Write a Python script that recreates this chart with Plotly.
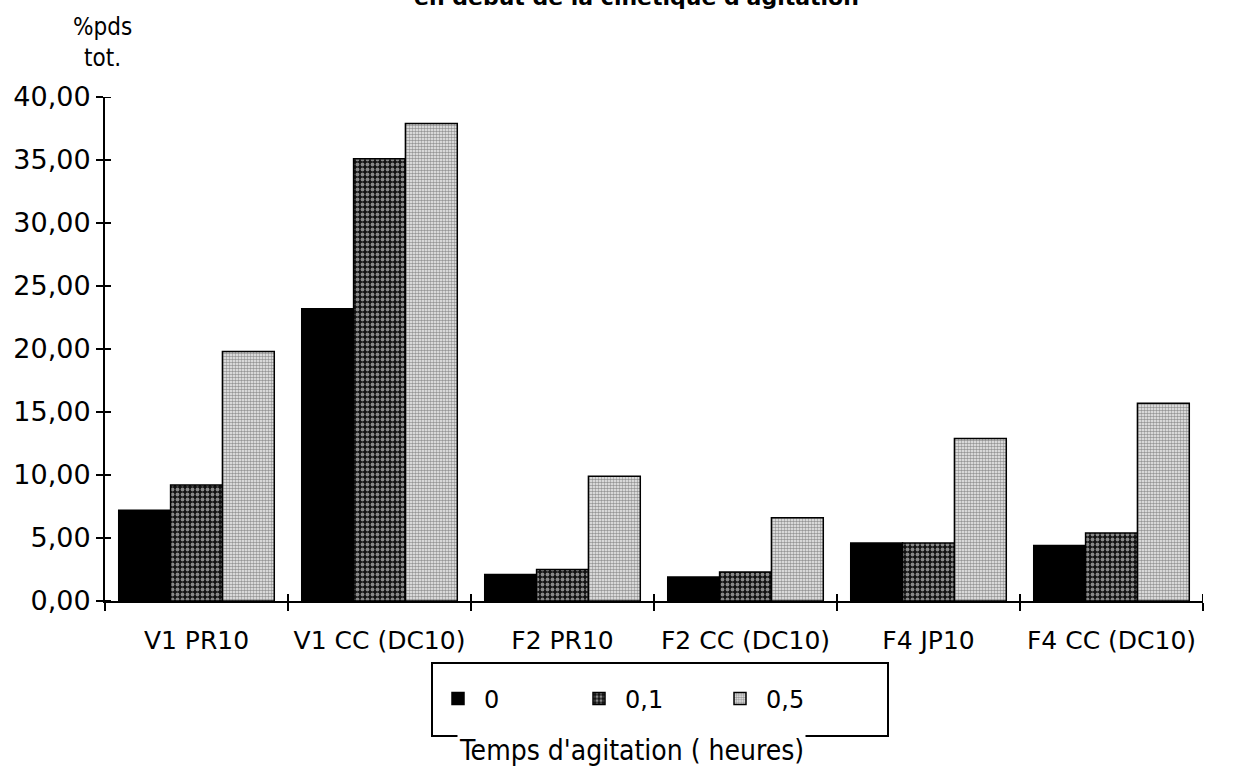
import plotly.graph_objects as go

# Échantillons et teneurs (% du poids total) selon le temps d'agitation
categories = ["V1 PR10", "V1 CC (DC10)", "F2 PR10", "F2 CC (DC10)", "F4 JP10", "F4 CC (DC10)"]
series_names = ["0", "0,1", "0,5"]
t0 = [7.2, 23.2, 2.1, 1.9, 4.6, 4.4]
t01 = [9.2, 35.1, 2.5, 2.3, 4.6, 5.4]
t05 = [19.8, 37.9, 9.9, 6.6, 12.9, 15.7]
y_ticks = [0, 5, 10, 15, 20, 25, 30, 35, 40]
boundaries = [0.5, 1.5, 2.5, 3.5, 4.5, 5.5]

W, H = 1259, 775
ML, MR, MT, MB = 105, 56, 97, 174
PW, PH = W - ML - MR, H - MT - MB

def px_x(p):
    return (p - ML) / PW

def px_y(p):
    return (H - MB - p) / PH

FONT = "DejaVu Sans"
line = dict(color="black", width=1.5)

fig = go.Figure()
fig.add_bar(x=categories, y=t0, name=series_names[0],
            marker=dict(color="black", line=line))
fig.add_bar(x=categories, y=t01, name=series_names[1],
            marker=dict(color="#111111", line=line,
                        pattern=dict(shape=".", bgcolor="#111111", fgcolor="white",
                                     size=5, solidity=0.45)))
fig.add_bar(x=categories, y=t05, name=series_names[2],
            marker=dict(color="#f2f2f2", line=line,
                        pattern=dict(shape=".", bgcolor="#f2f2f2", fgcolor="#3a3a3a",
                                     size=3, solidity=0.55)))

fig.update_layout(
    width=W, height=H,
    margin=dict(l=ML, r=MR, t=MT, b=MB, pad=0, autoexpand=False),
    paper_bgcolor="white", plot_bgcolor="white",
    barmode="group", bargap=0.15, bargroupgap=0,
    separators=", ",
    font=dict(family=FONT, size=22, color="black"),
    showlegend=True,
    legend=dict(orientation="h", x=px_x(432), y=px_y(699), xanchor="left", yanchor="middle",
                entrywidth=84, entrywidthmode="pixels", itemwidth=42,
                bgcolor="rgba(0,0,0,0)", borderwidth=0,
                font=dict(family=FONT, size=24)),
    xaxis=dict(type="category", range=[-0.5, 5.5], showgrid=False, zeroline=False,
               showline=True, linecolor="black", linewidth=2, automargin=False, tickangle=0,
               ticks="outside", tickson="boundaries", ticklen=8, tickwidth=2, tickcolor="black",
               ticklabelstandoff=16, tickfont=dict(family=FONT, size=25)),
    yaxis=dict(range=[0, 40], tickvals=y_ticks, tickformat=".2f", showgrid=False, zeroline=False,
               showline=True, linecolor="black", linewidth=2, automargin=False,
               ticks="outside", ticklen=7, tickwidth=2, tickcolor="black",
               tickfont=dict(family=FONT, size=27)),
)

# Graduations croisées : moitié intérieure des marques d'axe
for v in y_ticks:
    fig.add_shape(type="line", xref="paper", xsizemode="pixel", xanchor=0, x0=0, x1=6,
                  yref="y", y0=v, y1=v, line=dict(color="black", width=2), layer="above")
for b in boundaries:
    fig.add_shape(type="line", xref="x", x0=b, x1=b,
                  yref="paper", ysizemode="pixel", yanchor=0, y0=0, y1=7,
                  line=dict(color="black", width=2), layer="above")

# Cadre de la légende
fig.add_shape(type="rect", xref="paper", yref="paper",
              x0=px_x(432), x1=px_x(888), y0=px_y(663), y1=px_y(736),
              line=dict(color="black", width=2), fillcolor="rgba(0,0,0,0)", layer="below")

fig.add_annotation(text="Temps d'agitation ( heures)", xref="paper", yref="paper",
                   x=px_x(631), y=px_y(750), showarrow=False, bgcolor="white",
                   xanchor="center", yanchor="middle",
                   font=dict(family="DejaVu Sans Condensed", size=28))

fig.add_annotation(text="%pds<br>tot.", xref="paper", yref="paper",
                   x=px_x(102), y=px_y(43), showarrow=False,
                   xanchor="center", yanchor="middle", align="center",
                   font=dict(family="DejaVu Sans Condensed", size=24))

fig.add_annotation(text="en début de la cinétique d'agitation", xref="paper", yref="paper",
                   x=px_x(636), y=px_y(12), showarrow=False,
                   xanchor="center", yanchor="bottom",
                   font=dict(family="DejaVu Sans", size=22, weight="bold"))

fig.write_html("out.html")
